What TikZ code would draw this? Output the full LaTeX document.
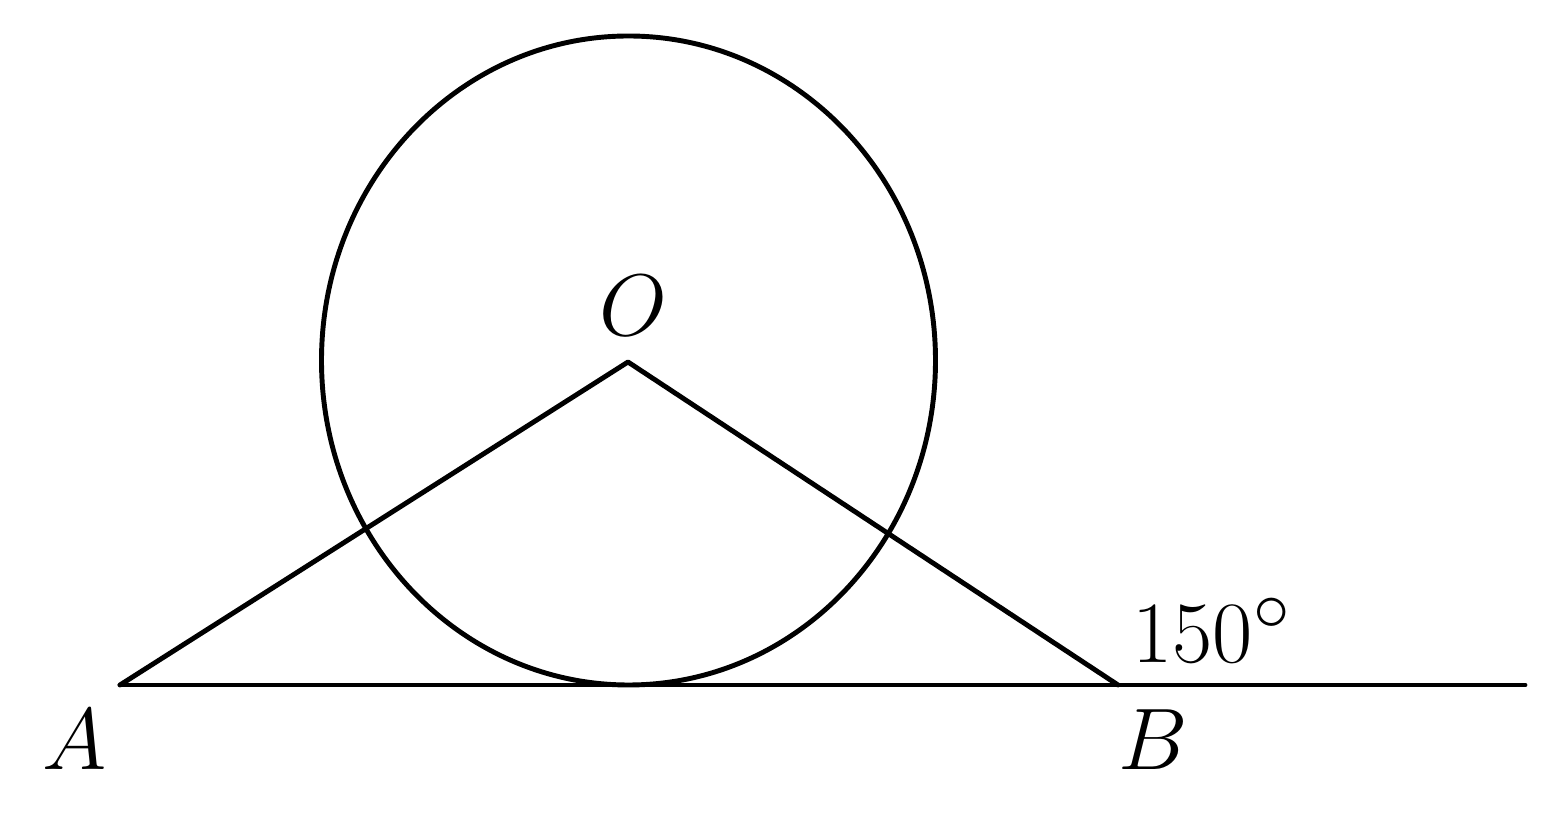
\documentclass[tikz,border=0pt]{standalone}
\usepackage{amsfonts,amsmath,amssymb}
\usepackage{tikz}
\tikzset{
  every picture/.style={line join=round, line cap=round},
  geo/.style={line width=1.4pt},
  lbl/.style={font=\fontsize{29}{34}\selectfont, inner sep=0pt},
}

\begin{document}
\begin{tikzpicture}
\useasboundingbox (0,0) rectangle (15.58,8.17);
\coordinate (A) at (1.20,1.32);
\coordinate (B) at (11.18,1.32);
\coordinate (E) at (15.25,1.32);
\coordinate (O) at (6.28,4.55);
\draw[geo] (6.285,4.565) ellipse [x radius=3.07cm, y radius=3.245cm];
\draw[geo] (A)--(O)--(B);
\draw[geo] (A)--(E);
\draw (0.75,0.77)node[lbl](la){$A$}
(11.53,0.77)node[lbl](lb){$B$}
(6.33,5.11)node[lbl](lo){$O$}
(12.12,1.87)node[lbl](lang){$150^\circ$};
\end{tikzpicture}
\end{document}
